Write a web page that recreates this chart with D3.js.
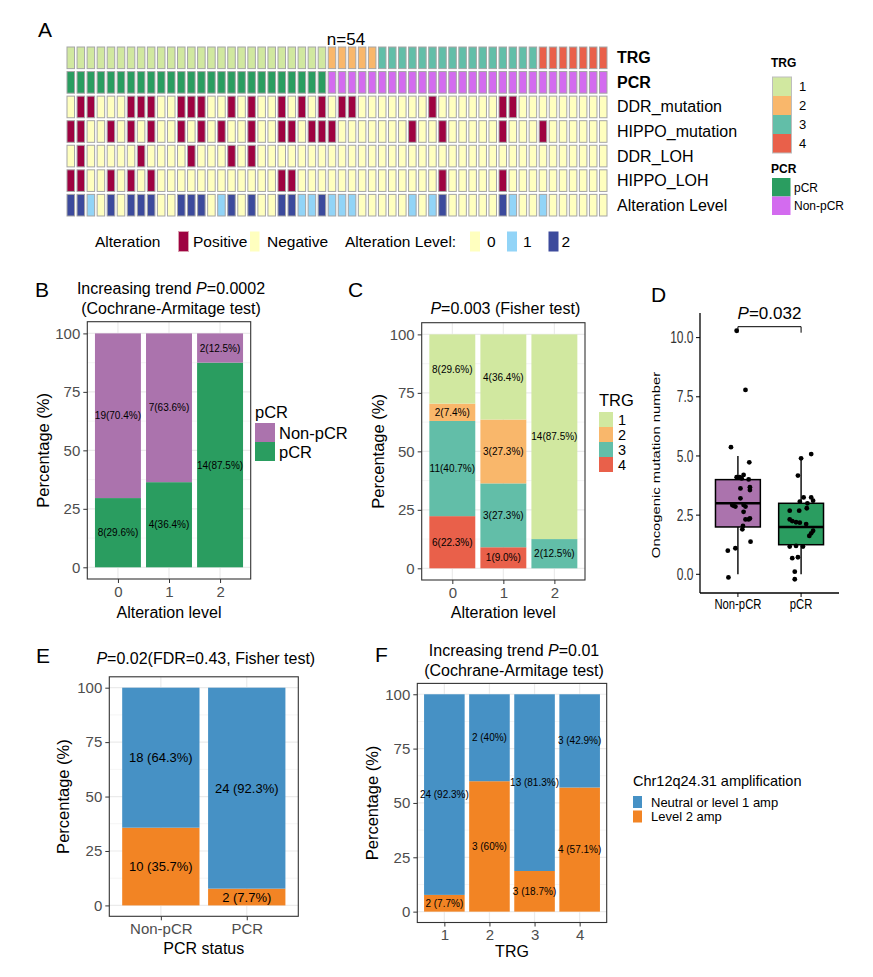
<!DOCTYPE html>
<html>
<head>
<meta charset="utf-8">
<script src="https://cdn.jsdelivr.net/npm/d3@7"></script>
<style>
body { margin: 0; background: #fff; }
svg { font-family: Arial, "Liberation Sans", sans-serif; }
</style>
</head>
<body>
<svg id="fig" width="873" height="977"></svg>
<script>
// ---------- panel A data (54 samples, left to right)
var trg = [1,1,1,1,1,1,1,1,1,1, 1,1,1,1,1,1,1,1,1,1, 1,1,1,1,1,1,2,2,2,2,
           2,3,3,3,3,3,3,3,3,3, 3,3,3,3,3,3,3,4,4,4, 4,4,4,4];
var pcr = [1,1,1,1,1,1,1,1,1,1, 1,1,1,1,1,1,1,1,1,1, 1,1,1,1,1,1,0,0,0,0,
           0,0,0,0,0,0,0,0,0,0, 0,0,0,0,0,0,0,0,0,0, 0,0,0,0];
var ddrMut = [0,1,1,0,0,0,1,1,1,0, 0,1,1,1,0,0,1,0,1,0, 0,1,0,1,0,1,0,1,1,0,
              0,0,0,0,0,0,1,0,0,0, 0,0,0,1,1,0,0,0,0,0, 0,0,0,0];
var hippoMut = [1,1,0,0,1,0,1,0,1,0, 0,1,0,1,0,1,0,0,1,0, 0,1,1,0,1,1,1,0,0,0,
                0,0,0,0,1,0,0,1,0,0, 0,0,0,1,0,0,0,1,0,0, 0,0,0,0];
var ddrLoh = [0,1,0,0,0,0,0,1,0,0, 0,0,1,0,0,0,1,0,1,0, 0,0,0,0,0,0,0,0,0,0,
              0,0,0,0,0,0,0,0,0,0, 0,0,0,0,0,0,0,0,0,0, 0,0,0,0];
var hippoLoh = [1,1,0,0,1,0,1,0,1,0, 0,0,0,0,0,0,0,0,0,0, 0,1,1,0,0,0,0,0,0,0,
                0,0,0,0,0,0,0,1,0,0, 0,0,0,1,0,0,0,0,0,0, 0,0,0,0];
var altLevel = [2,2,1,0,2,0,2,2,2,0, 0,2,2,2,0,1,2,0,2,0, 0,2,2,1,1,2,1,1,1,0,
                0,0,0,0,1,0,1,2,0,0, 0,0,0,2,1,0,0,1,0,0, 0,0,0,0];
var rowNames = ['TRG', 'PCR', 'DDR_mutation', 'HIPPO_mutation', 'DDR_LOH', 'HIPPO_LOH', 'Alteration Level'];

// ---------- panel B / C data (alteration level 0,1,2)
var altCats = ['0', '1', '2'];
var bNonCount = [19, 7, 2],  bNonPct = ['70.4', '63.6', '12.5'];
var bPcrCount = [8, 4, 14],  bPcrPct = ['29.6', '36.4', '87.5'];
var cTrg1Count = [8, 4, 14], cTrg1Pct = ['29.6', '36.4', '87.5'];
var cTrg2Count = [2, 3, 0],  cTrg2Pct = ['7.4', '27.3', '0'];
var cTrg3Count = [11, 3, 2], cTrg3Pct = ['40.7', '27.3', '12.5'];
var cTrg4Count = [6, 1, 0],  cTrg4Pct = ['22.3', '9.0', '0'];

// ---------- panel D data (oncogenic mutation number, with jitter in category units)
var dNonVals = [10.29, 7.79, 5.37, 4.73, 4.10, 4.10, 4.20, 4.01, 3.63, 3.68, 3.56, 3.21, 2.93, 2.86,
                2.93, 2.86, 2.64, 2.32, 2.32, 2.36, 2.04, 1.90, 1.38, 1.00, 1.10, -0.13, 2.90, 4.05];
var dNonJit = [-0.02, 0.12, -0.11, 0.18, -0.02, 0.03, 0.09, 0.17, 0.04, 0.19, 0.19, 0.04, -0.09, -0.04,
               0.09, 0.12, 0.09, 0.12, 0.17, 0.19, 0.08, 0.07, 0.20, -0.16, -0.04, -0.15, -0.07, 0.06];
var dPcrVals = [5.08, 4.90, 4.17, 3.07, 3.25, 3.25, 3.11, 2.69, 2.69, 2.79, 2.32, 2.25, 2.20,
                2.18, 2.12, 1.84, 1.73, 1.62, 1.17, 1.20, 1.17, 0.68, 0.72, 0.11, -0.21, 3.00];
var dPcrJit = [0.16, 0.00, -0.05, -0.02, 0.04, 0.16, 0.19, -0.18, -0.03, 0.09, -0.18, -0.14, -0.08,
               -0.02, 0.08, 0.19, 0.16, 0.13, -0.18, -0.08, 0.03, -0.14, -0.05, -0.10, -0.10, 0.10];
var dGroups = ['Non-pCR', 'pCR'];
var dBoxLo = [0, 0], dBoxQ1 = [2.0, 1.25], dBoxMed = [3.0, 2.0], dBoxQ3 = [4.0, 3.0], dBoxHi = [5.0, 4.9];
var dTicks = [0, 2.5, 5, 7.5, 10];

// ---------- panel E / F data (Chr12q24.31)
var eCats = ['Non-pCR', 'PCR'];
var eNeuCount = [18, 24], eNeuPct = ['64.3', '92.3'];
var eAmpCount = [10, 2],  eAmpPct = ['35.7', '7.7'];
var fCats = ['1', '2', '3', '4'];
var fNeuCount = [24, 2, 13, 3], fNeuPct = ['92.3', '40', '81.3', '42.9'];
var fAmpCount = [2, 3, 3, 4],   fAmpPct = ['7.7', '60', '18.7', '57.1'];
var pctTicks = [0, 25, 50, 75, 100];

var col = {
  trg1: '#d1e8a0', trg2: '#f9b76b', trg3: '#62bea8', trg4: '#e9604a',
  pcrHeat: '#2a9d60', nonHeat: '#d36bef',
  pos: '#9e0241', neg: '#ffffbf',
  lv0: '#ffffbf', lv1: '#92d4f7', lv2: '#3c4a9c',
  nonBar: '#ab73ad', pcrBar: '#2a9d60',
  neu: '#4691c5', amp: '#f28424'
};

var svg = d3.select('#fig');

function txt(x, y, s, size, opts) {
  opts = opts || {};
  var t = svg.append('text').attr('x', x).attr('y', y).attr('font-size', size)
    .attr('fill', opts.fill || '#000').attr('text-anchor', opts.anchor || 'start');
  if (opts.bold) t.attr('font-weight', 'bold');
  if (opts.transform) t.attr('transform', opts.transform);
  t.text(s);
  return t;
}

// panel letters
[['A', 38, 37], ['B', 35, 297], ['C', 348, 297], ['D', 651, 302], ['E', 36, 663], ['F', 375, 662]]
  .forEach(function (d) { txt(d[1], d[2], d[0], 21); });

// ================= A: heatmap =================
var hx = d3.scaleBand().domain(d3.range(trg.length)).range([67, 607]).paddingInner(0.25);
var hy = d3.scaleBand().domain(rowNames).range([47, 216]).paddingInner(0.12);
var heatRows = [
  { name: 'TRG', vals: trg, fill: function (v) { return col['trg' + v]; }, bold: true },
  { name: 'PCR', vals: pcr, fill: function (v) { return v ? col.pcrHeat : col.nonHeat; }, bold: true },
  { name: 'DDR_mutation', vals: ddrMut, fill: function (v) { return v ? col.pos : col.neg; } },
  { name: 'HIPPO_mutation', vals: hippoMut, fill: function (v) { return v ? col.pos : col.neg; } },
  { name: 'DDR_LOH', vals: ddrLoh, fill: function (v) { return v ? col.pos : col.neg; } },
  { name: 'HIPPO_LOH', vals: hippoLoh, fill: function (v) { return v ? col.pos : col.neg; } },
  { name: 'Alteration Level', vals: altLevel, fill: function (v) { return col['lv' + v]; } }
];
heatRows.forEach(function (r) {
  svg.append('g').selectAll('rect').data(r.vals).enter().append('rect')
    .attr('x', function (d, i) { return hx(i); })
    .attr('y', hy(r.name))
    .attr('width', hx.bandwidth())
    .attr('height', hy.bandwidth())
    .attr('fill', r.fill)
    .attr('stroke', '#a5a5a5').attr('stroke-width', 1);
  txt(617, hy(r.name) + hy.bandwidth() / 2 + 5.5, r.name, 16, { bold: r.bold });
});
txt(346, 45, 'n=' + trg.length, 17, { anchor: 'middle' });

// right legends
txt(771, 67, 'TRG', 12, { bold: true });
['1', '2', '3', '4'].forEach(function (k, i) {
  svg.append('rect').attr('x', 772.5).attr('y', 77 + i * 19).attr('width', 19).attr('height', 19)
    .attr('fill', col['trg' + k]);
  txt(799, 77 + i * 19 + 14, k, 13);
});
svg.append('rect').attr('x', 772.5).attr('y', 77).attr('width', 19).attr('height', 76)
  .attr('fill', 'none').attr('stroke', '#bdbdbd');
txt(771, 173, 'PCR', 12, { bold: true });
[['pCR', col.pcrHeat], ['Non-pCR', col.nonHeat]].forEach(function (d, i) {
  svg.append('rect').attr('x', 772).attr('y', 178 + i * 18.5).attr('width', 18.5).attr('height', 18.5)
    .attr('fill', d[1]);
  txt(794, 178 + i * 18.5 + 13.5, d[0], 12);
});

// bottom legend
txt(95, 246.5, 'Alteration', 15.5);
svg.append('rect').attr('x', 178.5).attr('y', 231.5).attr('width', 10).attr('height', 20).attr('fill', col.pos)
  .attr('stroke', '#d9a0b0');
txt(193, 246.5, 'Positive', 15.5);
svg.append('rect').attr('x', 250).attr('y', 231.5).attr('width', 9.5).attr('height', 20).attr('fill', col.neg);
txt(267, 246.5, 'Negative', 15.5);
txt(345, 246.5, 'Alteration Level:', 15.5);
[[0, 470, 487], [1, 507, 523], [2, 548.5, 561.5]].forEach(function (d) {
  svg.append('rect').attr('x', d[1]).attr('y', 231.5).attr('width', 10).attr('height', 20).attr('fill', col['lv' + d[0]]);
  txt(d[2], 246.5, String(d[0]), 15.5);
});

// ================= stacked bar panels =================
function stackPanel(o) {
  var x = d3.scalePoint().domain(o.cats).range([o.left, o.right]).padding(0.6);
  var y = d3.scaleLinear().domain([-5, 105]).range([o.bottom, o.top]);
  var g = svg.append('g');
  var bw = 0.9 * x.step();

  g.append('rect').attr('x', o.left).attr('y', o.top).attr('width', o.right - o.left)
    .attr('height', o.bottom - o.top).attr('fill', '#fff');
  g.selectAll('.minor').data([12.5, 37.5, 62.5, 87.5]).enter().append('line')
    .attr('x1', o.left).attr('x2', o.right).attr('y1', y).attr('y2', y)
    .attr('stroke', '#f2f2f2').attr('stroke-width', 0.8);
  g.selectAll('.major').data(pctTicks).enter().append('line')
    .attr('x1', o.left).attr('x2', o.right).attr('y1', y).attr('y2', y)
    .attr('stroke', '#ebebeb').attr('stroke-width', 1.2);
  g.selectAll('.vmajor').data(o.cats).enter().append('line')
    .attr('x1', x).attr('x2', x).attr('y1', o.top).attr('y2', o.bottom)
    .attr('stroke', '#ebebeb').attr('stroke-width', 1.2);

  var table = o.cats.map(function (c, i) {
    var r = { cat: c };
    o.series.forEach(function (s) { r[s.name] = +s.pct[i]; });
    return r;
  });
  var layers = d3.stack().keys(o.series.map(function (s) { return s.name; }))(table);
  layers.forEach(function (layer, k) {
    var s = o.series[k];
    g.append('g').selectAll('rect').data(layer).enter().append('rect')
      .attr('x', function (d) { return x(d.data.cat) - bw / 2; })
      .attr('y', function (d) { return y(d[1]); })
      .attr('width', bw)
      .attr('height', function (d) { return y(d[0]) - y(d[1]); })
      .attr('fill', s.color);
  });
  layers.forEach(function (layer, k) {
    var s = o.series[k];
    g.append('g').selectAll('text').data(layer).enter()
      .filter(function (d) { return d[1] - d[0] > 0; })
      .append('text')
      .attr('x', function (d) { return x(d.data.cat); })
      .attr('y', function (d) { return y((d[0] + d[1]) / 2) + o.lab * 0.36; })
      .attr('text-anchor', 'middle').attr('font-size', o.lab).attr('fill', '#000')
      .text(function (d) {
        var j = o.cats.indexOf(d.data.cat);
        return s.count[j] + o.sep + '(' + s.pct[j] + '%)';
      });
  });

  g.append('rect').attr('x', o.left).attr('y', o.top).attr('width', o.right - o.left)
    .attr('height', o.bottom - o.top).attr('fill', 'none').attr('stroke', '#333').attr('stroke-width', 1.1);

  var ya = g.append('g').attr('transform', 'translate(' + o.left + ',0)')
    .call(d3.axisLeft(y).tickValues(pctTicks).tickSize(4).tickPadding(3));
  var xa = g.append('g').attr('transform', 'translate(0,' + o.bottom + ')')
    .call(d3.axisBottom(x).tickSize(4).tickPadding(3));
  [ya, xa].forEach(function (a) {
    a.select('.domain').remove();
    a.selectAll('line').attr('stroke', '#333');
    a.selectAll('text').attr('fill', '#4d4d4d').attr('font-size', 15)
      .attr('font-family', 'Arial, "Liberation Sans", sans-serif');
  });

  var my = (o.top + o.bottom) / 2;
  txt(o.ytitleX, my, 'Percentage (%)', 16.5,
    { anchor: 'middle', transform: 'rotate(-90,' + o.ytitleX + ',' + my + ')' }).attr('dy', '0.35em');
  txt((o.left + o.right) / 2, o.xtitleY, o.xtitle, 16, { anchor: 'middle' });

  o.titles.forEach(function (t, i) {
    var el = svg.append('text').attr('x', (o.left + o.right) / 2 + 2).attr('y', o.titleY + i * 20)
      .attr('text-anchor', 'middle').attr('font-size', 16).attr('fill', '#000');
    t.forEach(function (p) {
      var sp = el.append('tspan').text(p[0]);
      if (p[1]) sp.attr('font-style', 'italic');
    });
  });
}

// B
stackPanel({
  left: 87.3, right: 250.7, top: 321.7, bottom: 579, cats: altCats, lab: 10, sep: '',
  series: [
    { name: 'pCR', color: col.pcrBar, count: bPcrCount, pct: bPcrPct },
    { name: 'Non-pCR', color: col.nonBar, count: bNonCount, pct: bNonPct }
  ],
  ytitleX: 43, xtitle: 'Alteration level', xtitleY: 618,
  titleY: 294, titles: [[['Increasing trend '], ['P', true], ['=0.0002']], [['(Cochrane-Armitage test)']]]
});
// C
stackPanel({
  left: 421.7, right: 585, top: 322.7, bottom: 580, cats: altCats, lab: 10, sep: '',
  series: [
    { name: 'TRG4', color: col.trg4, count: cTrg4Count, pct: cTrg4Pct },
    { name: 'TRG3', color: col.trg3, count: cTrg3Count, pct: cTrg3Pct },
    { name: 'TRG2', color: col.trg2, count: cTrg2Count, pct: cTrg2Pct },
    { name: 'TRG1', color: col.trg1, count: cTrg1Count, pct: cTrg1Pct }
  ],
  ytitleX: 378, xtitle: 'Alteration level', xtitleY: 618,
  titleY: 314, titles: [[['P', true], ['=0.003 (Fisher test)']]]
});
// E
stackPanel({
  left: 109.3, right: 298.3, top: 676.8, bottom: 916.3, cats: eCats, lab: 13, sep: ' ',
  series: [
    { name: 'amp', color: col.amp, count: eAmpCount, pct: eAmpPct },
    { name: 'neu', color: col.neu, count: eNeuCount, pct: eNeuPct }
  ],
  ytitleX: 63, xtitle: 'PCR status', xtitleY: 954,
  titleY: 664, titles: [[['P', true], ['=0.02(FDR=0.43, Fisher test)']]]
});
// F
stackPanel({
  left: 417.3, right: 606.7, top: 683.4, bottom: 922.5, cats: fCats, lab: 10, sep: ' ',
  series: [
    { name: 'amp', color: col.amp, count: fAmpCount, pct: fAmpPct },
    { name: 'neu', color: col.neu, count: fNeuCount, pct: fNeuPct }
  ],
  ytitleX: 372, xtitle: 'TRG', xtitleY: 957,
  titleY: 656, titles: [[['Increasing trend '], ['P', true], ['=0.01']], [['(Cochrane-Armitage test)']]]
});

// legends for B, C, F
txt(255, 418, 'pCR', 16.5);
[['Non-pCR', col.nonBar], ['pCR', col.pcrBar]].forEach(function (d, i) {
  svg.append('rect').attr('x', 255).attr('y', 423 + i * 19).attr('width', 20).attr('height', 19).attr('fill', d[1]);
  txt(279, 423 + i * 19 + 15.5, d[0], 16.5);
});
txt(599, 406, 'TRG', 16.5);
['1', '2', '3', '4'].forEach(function (k, i) {
  svg.append('rect').attr('x', 599).attr('y', 412 + i * 15).attr('width', 14).attr('height', 15).attr('fill', col['trg' + k]);
  txt(618, 412 + i * 15 + 12.5, k, 14.5);
});
txt(633, 786, 'Chr12q24.31 amplification', 14.5);
[['Neutral or level 1 amp', col.neu], ['Level 2 amp', col.amp]].forEach(function (d, i) {
  svg.append('rect').attr('x', 633).attr('y', 796 + i * 14.5).attr('width', 9).attr('height', 12).attr('fill', d[1]);
  txt(651, 796 + i * 14.5 + 10.5, d[0], 13);
});

// ================= D: box plot =================
(function () {
  var L = 700, R = 839, T = 313, B = 593, sy = 1.35;
  var x = d3.scalePoint().domain(dGroups).range([L, R]).padding(0.6);
  var y = d3.scaleLinear().domain([-0.79, 11.04]).range([B, T]);
  var g = svg.append('g');
  var bw = 0.71 * x.step();
  var boxFill = [col.nonBar, col.pcrBar];

  dGroups.forEach(function (grp, i) {
    var cx = x(grp);
    g.append('line').attr('x1', cx).attr('x2', cx).attr('y1', y(dBoxLo[i])).attr('y2', y(dBoxHi[i]))
      .attr('stroke', '#000').attr('stroke-width', 1.4);
    g.append('rect').attr('x', cx - bw / 2).attr('y', y(dBoxQ3[i])).attr('width', bw)
      .attr('height', y(dBoxQ1[i]) - y(dBoxQ3[i])).attr('fill', boxFill[i])
      .attr('stroke', '#000').attr('stroke-width', 1.5);
    g.append('line').attr('x1', cx - bw / 2).attr('x2', cx + bw / 2).attr('y1', y(dBoxMed[i])).attr('y2', y(dBoxMed[i]))
      .attr('stroke', '#000').attr('stroke-width', 2.6);
  });
  var pts = [];
  dNonVals.forEach(function (v, i) { pts.push({ g: 'Non-pCR', v: v, j: dNonJit[i] }); });
  dPcrVals.forEach(function (v, i) { pts.push({ g: 'pCR', v: v, j: dPcrJit[i] }); });
  g.selectAll('circle').data(pts).enter().append('circle')
    .attr('cx', function (d) { return x(d.g) + d.j * x.step(); })
    .attr('cy', function (d) { return y(d.v); })
    .attr('r', 2.4).attr('fill', '#000');

  // axes
  g.append('line').attr('x1', L).attr('x2', L).attr('y1', T).attr('y2', B).attr('stroke', '#000').attr('stroke-width', 1.3);
  g.append('line').attr('x1', L).attr('x2', R).attr('y1', B).attr('y2', B).attr('stroke', '#000').attr('stroke-width', 1.3);
  dTicks.forEach(function (t) {
    g.append('line').attr('x1', L - 4).attr('x2', L).attr('y1', y(t)).attr('y2', y(t)).attr('stroke', '#000');
    txt(0, 0, d3.format('.1f')(t), 12, { anchor: 'end', fill: '#333',
      transform: 'translate(' + (L - 6.5) + ',' + y(t) + ') scale(1,' + sy + ')' }).attr('dy', '0.35em');
  });
  dGroups.forEach(function (grp) {
    g.append('line').attr('x1', x(grp)).attr('x2', x(grp)).attr('y1', B).attr('y2', B + 4).attr('stroke', '#000');
    txt(0, 0, grp, 11.3, { anchor: 'middle', transform: 'translate(' + x(grp) + ',' + (B + 16) + ') scale(1,' + sy + ')' });
  });
  txt(0, 0, 'Oncogenic mutation number', 11, { anchor: 'middle',
    transform: 'translate(660,' + ((T + B) / 2 + 12) + ') rotate(-90) scale(' + sy + ',1)' });

  // significance bracket
  var bY = 326.7;
  g.append('path').attr('d', 'M' + x('Non-pCR') + ',' + (bY + 6) + 'V' + bY + 'H' + x('pCR') + 'V' + (bY + 6))
    .attr('fill', 'none').attr('stroke', '#000').attr('stroke-width', 1);
  var pt = svg.append('text').attr('x', (x('Non-pCR') + x('pCR')) / 2).attr('y', 318.5)
    .attr('text-anchor', 'middle').attr('font-size', 17);
  pt.append('tspan').attr('font-style', 'italic').text('P');
  pt.append('tspan').text('=0.032');
})();
</script>
</body>
</html>
